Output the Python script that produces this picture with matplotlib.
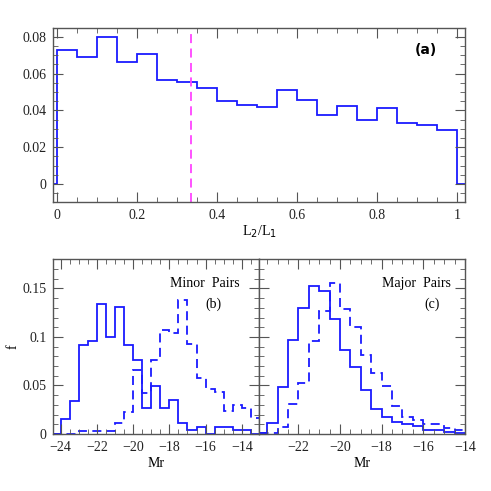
import numpy as np
import matplotlib
matplotlib.use("Agg")
import matplotlib.pyplot as plt
from matplotlib.ticker import MultipleLocator, FuncFormatter

plt.rcParams['font.family'] = ['Liberation Serif', 'DejaVu Serif']
plt.rcParams['axes.unicode_minus'] = True

# (a) luminosity ratio histogram, bins of 0.05 from 0 to 1
ratio_edges = np.linspace(0, 1, 21)
ratio_frac = [0.0726, 0.0689, 0.0802, 0.0666, 0.0706, 0.0566, 0.0557, 0.0521, 0.0450, 0.0430,
              0.0421, 0.0512, 0.0457, 0.0374, 0.0424, 0.0348, 0.0414, 0.0332, 0.0321, 0.0296]
ratio_cut = 1 / 3

# (b) minor pairs, bins of 0.5 mag starting at -24
minor_edges = np.arange(-24, -12.9, 0.5)
minor_primary = [0.0151, 0.0343, 0.0917, 0.0958, 0.1342, 0.0999, 0.1305, 0.0920, 0.0765, 0.0268, 0.0494,
                 0.0271, 0.0347, 0.0117, 0.0041, 0.0075, 0.0, 0.0075, 0.0075, 0.0041, 0.0041, 0.0]
minor_secondary = [0.0, 0.0, 0.0034, 0.0034, 0.0034, 0.0034, 0.0110, 0.0230, 0.0659, 0.0420, 0.0762,
                   0.1071, 0.1037, 0.1380, 0.0927, 0.0573, 0.0463, 0.0429, 0.0237, 0.0299, 0.0264, 0.0161]

# (c) major pairs, bins of 0.5 mag from -24 to -14
major_edges = np.arange(-24, -13.9, 0.5)
major_primary = [0.0014, 0.0117, 0.0480, 0.0968, 0.1300, 0.1530, 0.1476, 0.1180, 0.0865, 0.0693,
                 0.0453, 0.0261, 0.0179, 0.0127, 0.0103, 0.0086, 0.0041, 0.0041, 0.0020, 0.0014]
major_secondary = [0.0010, 0.0010, 0.0076, 0.0306, 0.0522, 0.0958, 0.1267, 0.1559, 0.1284, 0.1099,
                   0.0810, 0.0632, 0.0494, 0.0288, 0.0179, 0.0144, 0.0103, 0.0103, 0.0058, 0.0041]

blue = '#1a1aff'
frame = '#555555'


def padded(edges, vals):
    # add an empty bin on each side so the outline drops to zero
    w = edges[1] - edges[0]
    e = np.concatenate([[edges[0] - w], edges, [edges[-1] + w]])
    v = np.concatenate([[0], vals, [0]])
    return v, e


def style(ax):
    for s in ax.spines.values():
        s.set_color(frame)
        s.set_linewidth(1.0)
    ax.tick_params(which='both', direction='in', top=True, right=True, color=frame,
                   labelsize=10, pad=5, labelcolor='#222222')
    ax.tick_params(which='major', length=7)
    ax.tick_params(which='minor', length=3.5)


fmt = FuncFormatter(lambda v, p: ('%g' % round(v, 4)).replace('-', '\u2212'))

fig = plt.figure(figsize=(4.91, 4.91), dpi=100)

ax1 = fig.add_axes([0.1086, 0.588, 0.947 - 0.1086, 0.9436 - 0.588])
v, e = padded(ratio_edges, ratio_frac)
ax1.stairs(v, e, baseline=None, color=blue, lw=1.3)
ax1.axvline(ratio_cut, color='#ff44ff', lw=1.3, ls=(0, (5, 3)))
ax1.set_xlim(-0.01, 1.02)
ax1.set_ylim(-0.01, 0.085)
ax1.xaxis.set_major_locator(MultipleLocator(0.2))
ax1.xaxis.set_minor_locator(MultipleLocator(0.05))
ax1.yaxis.set_major_locator(MultipleLocator(0.02))
ax1.yaxis.set_minor_locator(MultipleLocator(0.005))
ax1.xaxis.set_major_formatter(fmt)
ax1.yaxis.set_major_formatter(fmt)
style(ax1)
ax1.set_xlabel('L$_2$/L$_1$', fontsize=10, labelpad=1)
ax1.text(0.905, 0.87, '(a)', transform=ax1.transAxes, fontsize=10, fontweight='bold',
         ha='center', va='center', family='DejaVu Sans')

ax2 = fig.add_axes([0.1086, 0.1161, 0.527 - 0.1086, 0.4719 - 0.1161])
ax3 = fig.add_axes([0.527, 0.1161, 0.947 - 0.527, 0.4719 - 0.1161])

v, e = padded(minor_edges, minor_primary)
ax2.stairs(v, e, baseline=None, color=blue, lw=1.3)
v, e = padded(minor_edges, minor_secondary)
ax2.stairs(v, e, baseline=None, color=blue, lw=1.3, ls=(0, (5, 3)))
ax2.set_xlim(-24.4, -13.07)

v, e = padded(major_edges, major_primary)
ax3.stairs(v, e, baseline=None, color=blue, lw=1.3)
v, e = padded(major_edges, major_secondary)
ax3.stairs(v, e, baseline=None, color=blue, lw=1.3, ls=(0, (5, 3)))
ax3.set_xlim(-23.9, -14)

for ax in (ax2, ax3):
    ax.set_ylim(0, 0.18)
    ax.xaxis.set_major_locator(MultipleLocator(2))
    ax.xaxis.set_minor_locator(MultipleLocator(0.5))
    ax.yaxis.set_major_locator(MultipleLocator(0.05))
    ax.yaxis.set_minor_locator(MultipleLocator(0.01))
    ax.xaxis.set_major_formatter(fmt)
    ax.yaxis.set_major_formatter(fmt)
    style(ax)
    ax.set_xlabel('Mr', fontsize=10, labelpad=2)

ax3.tick_params(labelleft=False)
ax2.set_ylabel('f', fontsize=10)
ax2.yaxis.set_label_coords(-0.165, 0.5)

ax2.text(0.735, 0.86, 'Minor  Pairs', transform=ax2.transAxes, fontsize=10, ha='center', va='center')
ax2.text(0.78, 0.745, '(b)', transform=ax2.transAxes, fontsize=10, ha='center', va='center')
ax3.text(0.765, 0.86, 'Major  Pairs', transform=ax3.transAxes, fontsize=10, ha='center', va='center')
ax3.text(0.84, 0.745, '(c)', transform=ax3.transAxes, fontsize=10, ha='center', va='center')

fig.savefig('out.png', dpi=100)
